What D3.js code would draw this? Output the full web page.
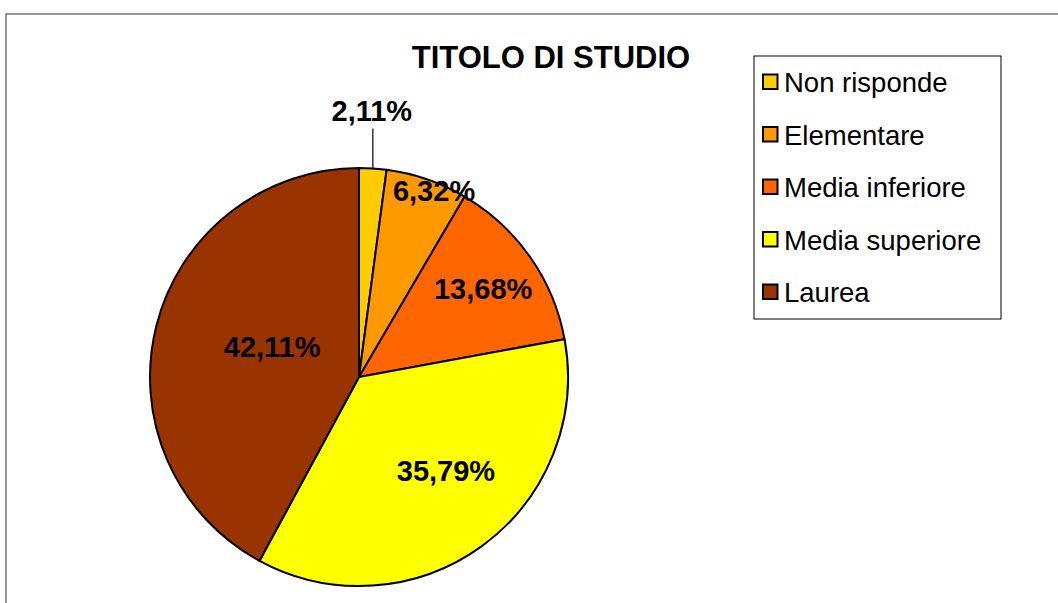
<!DOCTYPE html>
<html>
<head>
<meta charset="utf-8">
<script src="https://cdn.jsdelivr.net/npm/d3@7"></script>
<style>
  html, body { margin: 0; padding: 0; background: #fff; }
  svg { display: block; font-family: Arial, "Liberation Sans", sans-serif; }
</style>
</head>
<body>
<div id="chart"></div>
<script>
// data
var categories = ['Non risponde', 'Elementare', 'Media inferiore', 'Media superiore', 'Laurea'];
var values = [2.11, 6.32, 13.68, 35.79, 42.11];
var labels = ['2,11%', '6,32%', '13,68%', '35,79%', '42,11%'];
var colors = ['#FFCC00', '#FF9900', '#FF6600', '#FFFF00', '#993300'];

// label placement (radius as fraction of pie radius, angle nudge in degrees)
var labelRadius = [0, 0.96, 0.73, 0.61, 0.44];
var labelNudge = [0, 3, -0.5, -7, 5];

function PieChart(params) {
  var attrs = Object.assign({
    container: 'body',
    width: 1058,
    height: 603,
    cx: 359,
    cy: 377,
    radius: 209,
    title: 'TITOLO DI STUDIO'
  }, params);

  function main() {
    var svg = d3.select(attrs.container).append('svg')
      .attr('width', attrs.width)
      .attr('height', attrs.height);

    // chart area frame
    svg.append('rect')
      .attr('x', 6)
      .attr('y', 14)
      .attr('width', attrs.width + 20)
      .attr('height', attrs.height + 20)
      .attr('fill', '#fff')
      .attr('stroke', '#7f7f7f')
      .attr('stroke-width', 1.6);

    svg.append('text')
      .attr('x', 551)
      .attr('y', 67.5)
      .attr('text-anchor', 'middle')
      .attr('font-size', 31)
      .attr('font-weight', 'bold')
      .text(attrs.title);

    var pie = d3.pie().sort(null).value(d => d);
    var arcs = pie(values);

    var arc = d3.arc().innerRadius(0).outerRadius(attrs.radius);

    var g = svg.append('g')
      .attr('transform', `translate(${attrs.cx},${attrs.cy})`);

    g.selectAll('path.slice')
      .data(arcs)
      .join('path')
      .attr('class', 'slice')
      .attr('d', arc)
      .attr('fill', (d, i) => colors[i])
      .attr('stroke', '#000')
      .attr('stroke-width', 2)
      .attr('stroke-linejoin', 'round');

    // data labels
    arcs.forEach(function (d, i) {
      var mid = (d.startAngle + d.endAngle) / 2;
      if (i === 0) {
        // small slice: label outside with leader line
        var x = Math.sin(mid) * attrs.radius;
        var yEdge = -Math.cos(mid) * attrs.radius;
        g.append('line')
          .attr('x1', x).attr('x2', x)
          .attr('y1', yEdge).attr('y2', yEdge - 40)
          .attr('stroke', '#000')
          .attr('stroke-width', 1.2);
        g.append('text')
          .attr('x', x - 1)
          .attr('y', yEdge - 47)
          .attr('text-anchor', 'middle')
          .attr('font-size', 29)
          .attr('font-weight', 'bold')
          .text(labels[i]);
        return;
      }
      var a = mid + labelNudge[i] * Math.PI / 180;
      var r = labelRadius[i] * attrs.radius;
      g.append('text')
        .attr('x', Math.sin(a) * r)
        .attr('y', -Math.cos(a) * r + 10.4)
        .attr('text-anchor', 'middle')
        .attr('font-size', 29)
        .attr('font-weight', 'bold')
        .text(labels[i]);
    });

    // legend
    var legend = svg.append('g').attr('transform', 'translate(754,56)');
    legend.append('rect')
      .attr('width', 247)
      .attr('height', 263)
      .attr('fill', '#fff')
      .attr('stroke', '#000')
      .attr('stroke-width', 1);

    var items = legend.selectAll('g.item')
      .data(categories)
      .join('g')
      .attr('class', 'item')
      .attr('transform', (d, i) => `translate(0,${36 + i * 52.5})`);

    items.append('rect')
      .attr('x', 9)
      .attr('y', -17.5)
      .attr('width', 14.5)
      .attr('height', 14.5)
      .attr('fill', (d, i) => colors[i])
      .attr('stroke', '#000')
      .attr('stroke-width', 2);

    items.append('text')
      .attr('x', 30)
      .attr('y', 0)
      .attr('font-size', 27.5)
      .text(d => d);
  }

  main.render = function () {
    main();
    return main;
  };

  return main;
}

PieChart({ container: '#chart' }).render();
</script>
</body>
</html>
